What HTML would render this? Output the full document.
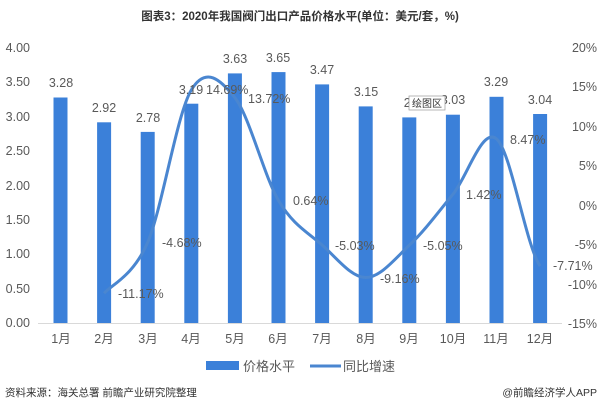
<!DOCTYPE html>
<html><head><meta charset="utf-8"><style>
html,body{margin:0;padding:0;background:#fff}
svg text{font-family:"Liberation Sans","Noto Sans CJK SC",sans-serif;fill:#595959}
</style></head><body>
<svg width="600" height="409" viewBox="0 0 600 409" xmlns="http://www.w3.org/2000/svg">
<text x="300" y="20" text-anchor="middle" font-size="11.5" font-weight="bold" style="fill:#333">图表3：2020年我国阀门出口产品价格水平(单位：美元/套，%)</text>
<g font-size="12.5" text-anchor="end">
<text x="30" y="52">4.00</text><text x="30" y="86">3.50</text><text x="30" y="121">3.00</text><text x="30" y="155">2.50</text><text x="30" y="190">2.00</text><text x="30" y="224">1.50</text><text x="30" y="258">1.00</text><text x="30" y="293">0.50</text><text x="30" y="327">0.00</text>
</g>
<g font-size="12.5" text-anchor="end">
<text x="597" y="52">20%</text><text x="597" y="91">15%</text><text x="597" y="131">10%</text><text x="597" y="170">5%</text><text x="597" y="210">0%</text><text x="597" y="249">-5%</text><text x="597" y="289">-10%</text><text x="597" y="328">-15%</text>
</g>
<line x1="38" y1="323.5" x2="562" y2="323.5" stroke="#d9d9d9"/>
<g fill="#3b80d9">
<rect x="53.5" y="97.5" width="14" height="225.5"/>
<rect x="97.1" y="122.3" width="14" height="200.7"/>
<rect x="140.7" y="131.9" width="14" height="191.1"/>
<rect x="184.3" y="103.7" width="14" height="219.3"/>
<rect x="227.9" y="73.4" width="14" height="249.6"/>
<rect x="271.5" y="72.1" width="14" height="250.9"/>
<rect x="315.1" y="84.4" width="14" height="238.6"/>
<rect x="358.7" y="106.4" width="14" height="216.6"/>
<rect x="402.3" y="117.4" width="14" height="205.6"/>
<rect x="445.9" y="114.7" width="14" height="208.3"/>
<rect x="489.5" y="96.8" width="14" height="226.2"/>
<rect x="533.1" y="114" width="14" height="209"/>
</g>
<path d="M104.1,293.3 C111.4,284.8 133.2,276.2 147.7,242.3 C162.2,208.4 176.8,114.1 191.3,90 C205.8,65.9 220.4,79.3 234.9,97.7 C249.4,116.1 264,175.9 278.5,200.5 C293,225.1 307.6,232.2 322.1,245 C336.6,257.8 351.2,277.5 365.7,277.5 C380.2,277.5 394.8,259.1 409.3,245.2 C423.8,231.7 438.4,212 452.9,194.3 C467.4,176.6 482,126.9 496.5,138.9 C511,150.9 525.6,244.9 540.1,266.1" fill="none" stroke="#4a86d0" stroke-width="3"/>
<g font-size="12.5" text-anchor="middle">
<text x="61" y="87">3.28</text><text x="104" y="112">2.92</text><text x="148" y="122">2.78</text><text x="191" y="94">3.19</text><text x="235" y="63">3.63</text><text x="278" y="62">3.65</text><text x="322" y="74">3.47</text><text x="366" y="96">3.15</text><text x="409" y="107">2.</text><text x="453" y="104">3.03</text><text x="496" y="86">3.29</text><text x="540" y="104">3.04</text>
</g>
<g font-size="12.5">
<text x="118" y="298">-11.17%</text><text x="162" y="247">-4.68%</text><text x="206" y="94">14.69%</text><text x="248" y="103">13.72%</text><text x="293" y="205">0.64%</text><text x="335" y="250">-5.03%</text><text x="380" y="283">-9.16%</text><text x="423" y="250">-5.05%</text><text x="466" y="199">1.42%</text><text x="510" y="144">8.47%</text><text x="553" y="270">-7.71%</text>
</g>
<rect x="409" y="96" width="36" height="14" fill="#fff" stroke="#999" stroke-width="0.7"/>
<text x="412" y="107" font-size="10" style="fill:#333">绘图区</text>
<g font-size="12.5" text-anchor="middle">
<text x="61" y="343">1月</text><text x="104" y="343">2月</text><text x="148" y="343">3月</text><text x="191" y="343">4月</text><text x="235" y="343">5月</text><text x="278" y="343">6月</text><text x="322" y="343">7月</text><text x="366" y="343">8月</text><text x="409" y="343">9月</text><text x="453" y="343">10月</text><text x="496" y="343">11月</text><text x="540" y="343">12月</text>
</g>
<rect x="206" y="361" width="33" height="9" fill="#3b80d9"/>
<text x="243" y="371" font-size="13">价格水平</text>
<line x1="310" y1="366" x2="341" y2="366" stroke="#4a86d0" stroke-width="3"/>
<text x="343" y="371" font-size="13">同比增速</text>
<text x="5" y="396" font-size="10.5" style="fill:#333">资料来源：海关总署 前瞻产业研究院整理</text>
<text x="597" y="396" font-size="10.5" text-anchor="end" style="fill:#333">@前瞻经济学人APP</text>
</svg>
</body></html>
